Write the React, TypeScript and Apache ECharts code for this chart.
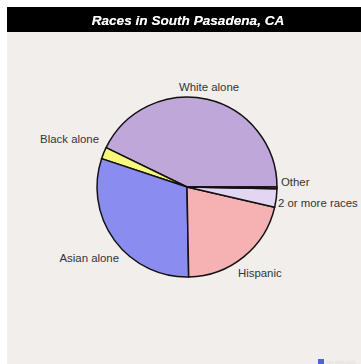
import React, { useEffect, useRef } from "react";
import * as echarts from "echarts";

const title = "Races in South Pasadena, CA";
const categories = ["White alone", "Black alone", "Asian alone", "Hispanic", "2 or more races", "Other"];
const values = [42.8, 2.1, 30.4, 21.1, 3.3, 0.3];
const colors = ["#bfa7da", "#f7f77e", "#8b8cf0", "#f6b1b3", "#e3d6f3", "#f07070"];

// label anchor positions (layout only)
const labelPos: { x: number; y: number; align: string }[] = [
  { x: 202, y: 80, align: "center" },
  { x: 92, y: 132, align: "right" },
  { x: 112, y: 251, align: "right" },
  { x: 231, y: 266, align: "left" },
  { x: 271, y: 196, align: "left" },
  { x: 274, y: 175, align: "left" },
];

export default function App() {
  const ref = useRef<HTMLDivElement>(null);
  useEffect(() => {
    document.body.style.margin = "0";
    const chart = echarts.init(ref.current!, null, { renderer: "svg" });
    chart.setOption({
      animation: false,
      backgroundColor: "#f2eeeb",
      graphic: [
        { type: "rect", shape: { x: 0, y: 0, width: 354, height: 25 }, style: { fill: "#000" }, z: 0 },
        { type: "rect", shape: { x: 311, y: 352, width: 6, height: 5 }, style: { fill: "#4a66d6" }, z: 0 },
        {
          type: "text",
          x: 319,
          y: 357,
          style: { text: "city-data.com", fill: "#e2dedb", font: "5px Liberation Sans", textVerticalAlign: "bottom" },
          z: 0,
        },
      ],
      title: {
        text: title,
        left: 181,
        top: 13,
        textAlign: "center",
        textVerticalAlign: "middle",
        textStyle: {
          color: "#fff",
          fontFamily: "Liberation Sans, Arial, sans-serif",
          fontStyle: "italic",
          fontWeight: "bold",
          fontSize: 13.6,
          textShadowColor: "#666",
          textShadowBlur: 1,
        },
        padding: 0,
      },
      series: [
        {
          type: "pie",
          center: [180, 180],
          radius: 90,
          startAngle: 0,
          clockwise: false,
          avoidLabelOverlap: false,
          itemStyle: { borderColor: "#111", borderWidth: 1.5 },
          label: {
            show: true,
            position: "outside",
            color: "#333",
            fontSize: 11.4,
            fontFamily: "Liberation Sans, Arial, sans-serif",
            overflow: "none",
          },
          labelLine: { show: false, length: 4, length2: 2 },
          labelLayout: (p: any) => {
            const lp = labelPos[p.dataIndex];
            return { x: lp.x, y: lp.y, align: lp.align, verticalAlign: "middle", hideOverlap: false };
          },
          data: categories.map((name, i) => ({
            name,
            value: values[i],
            itemStyle: { color: colors[i] },
          })),
        },
      ],
    });
    return () => chart.dispose();
  }, []);
  return (
    <div
      ref={ref}
      style={{ position: "absolute", left: 7, top: 7, width: 354, height: 357 }}
    />
  );
}
